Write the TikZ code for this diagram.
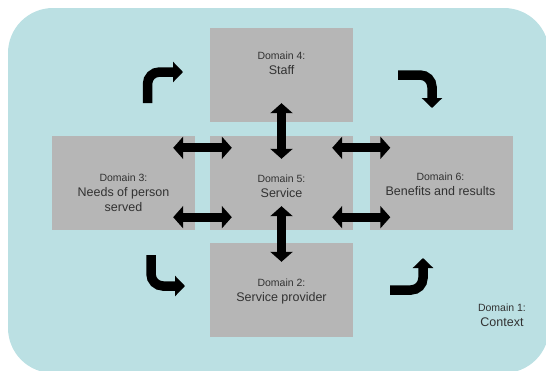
\documentclass[tikz,border=0pt]{standalone}
\usepackage{fontspec}
\setmainfont{Liberation Sans}
\usetikzlibrary{arrows.meta}
\definecolor{bgcol}{RGB}{187,224,227}
\definecolor{boxcol}{RGB}{182,182,182}
\definecolor{txtcol}{RGB}{50,50,50}
\begin{document}
\begin{tikzpicture}[x=1pt,y=-1pt,
  domainbox/.style={fill=boxcol,draw=none,minimum width=143pt,minimum height=94pt,inner sep=0pt},
  lbl/.style={text=txtcol,align=center,inner sep=0pt,font=\fontsize{12.5}{15}\selectfont},
  dbl/.style={line width=9pt,{Triangle[width=22pt,length=10pt]}-{Triangle[width=22pt,length=10pt]}},
  bent/.style={line width=9.5pt,rounded corners=12pt,-{Triangle[width=20pt,length=10pt]}}]
\useasboundingbox (0,0) rectangle (546,370);
\fill[bgcol,rounded corners=45pt] (8,8) rectangle (549,373);
% boxes
\node[domainbox] (d4) at (281.5,75) {};
\node[domainbox] (d3) at (123.5,183) {};
\node[domainbox] (d5) at (281.5,183) {};
\node[domainbox] (d6) at (441,183) {};
\node[domainbox] (d2) at (281.5,290) {};
% labels
\newcommand{\dsmall}[1]{{\fontsize{10.5}{15}\selectfont #1}}
\node[lbl] (t4) at (281.5,63) {\dsmall{Domain 4:}\\Staff};
\node[lbl] (t3) at (123.5,193) {\dsmall{Domain 3:}\\Needs of person\\served};
\node[lbl] (t5) at (281.5,186) {\dsmall{Domain 5:}\\Service};
\node[lbl] (t6) at (440.5,184) {\dsmall{Domain 6:}\\Benefits and results};
\node[lbl] (t2) at (281.5,291) {\dsmall{Domain 2:}\\Service provider};
\node[lbl] (t1) at (502,315) {\dsmall{Domain 1:}\\Context};
% double arrows
\draw[dbl] ([yshift=19pt]d4.south) -- ([yshift=-23pt]d5.north);
\draw[dbl] ([yshift=24pt]d5.south) -- ([yshift=-19pt]d2.north);
\draw[dbl] ([xshift=-22pt,yshift=-12pt]d3.north east) -- ([xshift=22pt,yshift=-12pt]d5.north west);
\draw[dbl] ([xshift=-22pt,yshift=13pt]d3.south east) -- ([xshift=22pt,yshift=13pt]d5.south west);
\draw[dbl] ([xshift=-21pt,yshift=-12pt]d5.north east) -- ([xshift=21pt,yshift=-12pt]d6.north west);
\draw[dbl] ([xshift=-21pt,yshift=13pt]d5.south east) -- ([xshift=21pt,yshift=13pt]d6.south west);
% bent arrows
\coordinate (a1s) at (147.5,103);
\coordinate (a1e) at (183,72);
\coordinate (a2s) at (398,75);
\coordinate (a2e) at (432,108);
\coordinate (a3s) at (151,255);
\coordinate (a3e) at (185,286);
\coordinate (a4s) at (390,290);
\coordinate (a4e) at (423,258);
\draw[bent] (a1s) |- (a1e);
\draw[bent] (a2s) -| (a2e);
\draw[bent] (a3s) |- (a3e);
\draw[bent] (a4s) -| (a4e);
\end{tikzpicture}
\end{document}
